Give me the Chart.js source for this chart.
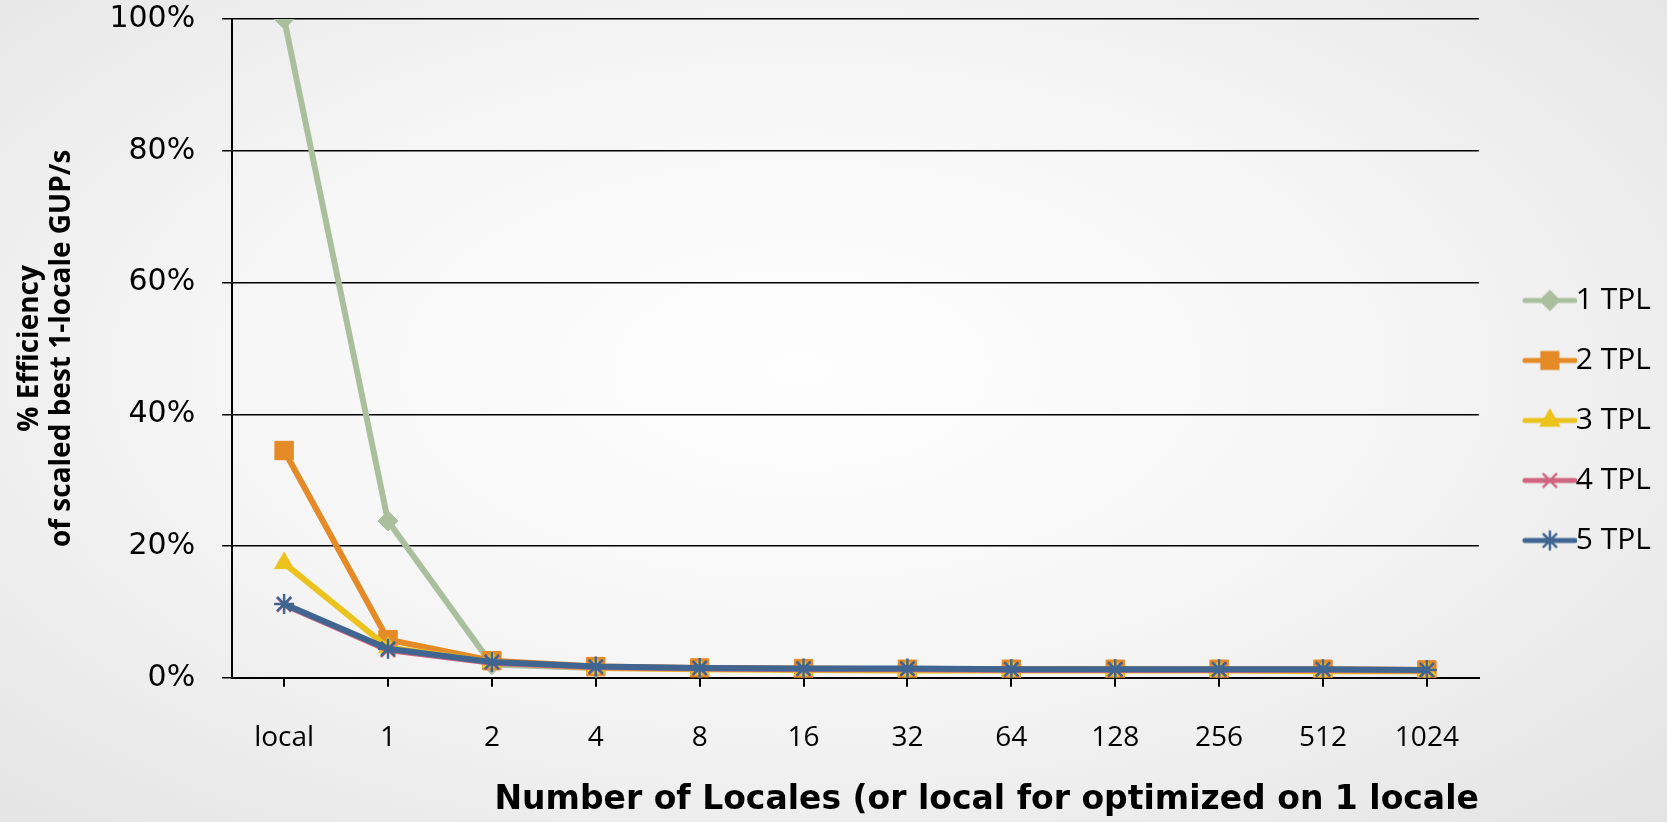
<!DOCTYPE html>
<html>
<head>
<meta charset="utf-8">
<script src="https://cdn.jsdelivr.net/npm/chart.js@4"></script>
<style>
  html, body { margin:0; padding:0; }
  body { width:1667px; height:822px; overflow:hidden;
    background: radial-gradient(ellipse 75% 80% at 48% 45%, #fefefe 0%, #f6f6f6 45%, #e2e2e2 100%); }
  #wrap { width:1667px; height:822px; position:relative; }
</style>
</head>
<body>
<div id="wrap"><canvas id="c"></canvas></div>
<script>
// categories + series (percent efficiency)
const locales = ['local','1','2','4','8','16','32','64','128','256','512','1024'];
const tpl1 = [100, 23.8, 2.0, 1.5, 1.4, 1.3, 1.3, 1.3, 1.3, 1.2, 1.2, 1.2];
const tpl2 = [34.5, 5.8, 2.6, 1.7, 1.5, 1.4, 1.3, 1.3, 1.3, 1.3, 1.3, 1.2];
const tpl3 = [17.4, 4.6, 2.4, 1.5, 1.3, 1.2, 1.1, 1.1, 1.1, 1.1, 1.0, 1.0];
const tpl4 = [11.1, 4.2, 2.3, 1.6, 1.4, 1.3, 1.3, 1.2, 1.2, 1.2, 1.2, 1.1];
const tpl5 = [11.2, 4.4, 2.4, 1.7, 1.5, 1.4, 1.4, 1.3, 1.3, 1.3, 1.3, 1.2];
const yTicks = [0, 20, 40, 60, 80, 100];

const series = [
  { name:'1 TPL', data:tpl1, color:'#aabf9e', style:'rectRot', r:10 },
  { name:'2 TPL', data:tpl2, color:'#e48a26', style:'rect', r:13 },
  { name:'3 TPL', data:tpl3, color:'#ecc21c', style:'triangle', r:11 },
  { name:'4 TPL', data:tpl4, color:'#cf6582', style:'crossRot', r:10 },
  { name:'5 TPL', data:tpl5, color:'#3f6590', style:'star', r:10 },
];

// legend glyph: short line with the marker in the middle
// (canvas is drawn centred on the legend box, so the line sits right of centre)
function legendGlyph(s){
  const cv = document.createElement('canvas');
  cv.width = 84; cv.height = 28;
  const g = cv.getContext('2d');
  g.strokeStyle = s.color; g.fillStyle = s.color; g.lineWidth = 5; g.lineCap = 'round';
  g.beginPath(); g.moveTo(32, 14); g.lineTo(82, 14); g.stroke();
  g.lineWidth = 2.5;
  Chart.helpers.drawPoint(g, { pointStyle:s.style, radius:s.r * 0.9, rotation:0, borderWidth:2.5 }, 57, 14);
  return cv;
}

const datasets = series.map((s, i) => ({
  label: s.name,
  data: s.data,
  borderColor: s.color,
  backgroundColor: s.color,
  borderWidth: 6,
  pointStyle: s.style,
  pointRadius: s.r,
  pointBorderWidth: (s.style === 'crossRot' || s.style === 'star') ? 2.5 : 1,
  pointBackgroundColor: s.color,
  pointBorderColor: s.color,
  tension: 0,
  order: series.length - i,
}));

new Chart(document.getElementById('c'), {
  type: 'line',
  data: { labels: locales, datasets },
  options: {
    responsive: true,
    maintainAspectRatio: false,
    animation: false,
    layout: { padding: { left: 14, right: 6, top: 19, bottom: 0 } },
    plugins: {
      tooltip: { enabled:false },
      legend: {
        position: 'right',
        align: 'center',
        labels: {
          usePointStyle: true,
          pointStyleWidth: 52,
          padding: 30,
          color: '#000',
          font: { family: "'Open Sans', sans-serif", size: 30 },
          generateLabels: (chart) => series.map((s, i) => ({
            text: s.name,
            pointStyle: legendGlyph(s),
            fillStyle: s.color,
            strokeStyle: s.color,
            lineWidth: 0,
            fontColor: '#000',
            datasetIndex: i,
            hidden: false,
          })),
        },
      },
    },
    scales: {
      x: {
        offset: true,
        grid: { display:true, drawOnChartArea:false, drawTicks:true, tickLength:9, offset:false, color:'#000', lineWidth:2 },
        border: { display:true, color:'#000', width:2 },
        ticks: { color:'#000', padding:34, font:{ family:"'Open Sans', sans-serif", size:28 } },
        title: { display:true, align:'end', text:'Number of Locales (or local for optimized on 1 locale', color:'#000',
          padding:{ top:-8, bottom:2 }, font:{ family:"'DejaVu Sans', sans-serif", size:33, weight:'bold' } },
      },
      y: {
        min: 0, max: 100,
        afterBuildTicks: (axis) => { axis.ticks = yTicks.map(v => ({ value:v })); },
        afterFit: (axis) => { axis.paddingTop = 0; axis.paddingBottom = 0; },
        grid: { color:'#000', lineWidth:1.5, tickLength:10 },
        border: { display:true, color:'#000', width:2 },
        ticks: { color:'#000', padding:27, font:{ family:"'DejaVu Sans', Verdana, sans-serif", size:30 },
          callback: (v) => v + '%' },
        title: { display:true, text:['% Efficiency', 'of scaled best 1-locale GUP/s'], color:'#000',
          padding:{ top:0, bottom:4 }, font:{ family:"'Open Sans', sans-serif", size:28, weight:'bold', lineHeight:1.15 } },
      },
    },
  },
});
</script>
</body>
</html>
